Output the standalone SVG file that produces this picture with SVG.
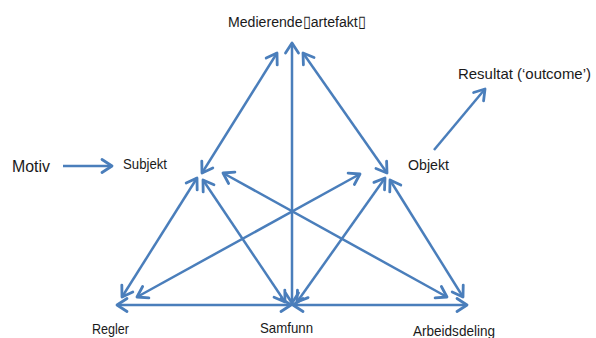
<svg xmlns="http://www.w3.org/2000/svg" width="596" height="338" viewBox="0 0 596 338">
<style>
.c{stroke:#4A7EBB;stroke-width:2.5;fill:none;marker-end:url(#ah)}
.d{marker-start:url(#ah)}
text{font-family:"Liberation Sans",Arial,sans-serif;fill:#1a1a1a}
</style>
<defs>
<marker id="ah" markerUnits="userSpaceOnUse" markerWidth="20" markerHeight="20" refX="0" refY="0" viewBox="-12 -10 14 20" orient="auto-start-reverse">
<path d="M-10,-6.5 L0,0 L-10,6.5" fill="none" stroke="#4A7EBB" stroke-width="2.8" stroke-linejoin="round" stroke-linecap="round"/>
</marker>
</defs>
<rect width="596" height="338" fill="#ffffff"/>
<g id="connectors">
<line class="c d" x1="292" y1="303" x2="292" y2="43"/>
<line class="c d" x1="202" y1="173" x2="277" y2="53"/>
<line class="c d" x1="387" y1="173" x2="303" y2="53"/>
<line class="c d" x1="122" y1="297" x2="197" y2="178"/>
<line class="c d" x1="203" y1="180" x2="285" y2="302"/>
<line class="c d" x1="385" y1="178" x2="297" y2="302"/>
<line class="c d" x1="390" y1="180" x2="463" y2="297"/>
<line class="c d" x1="137" y1="297" x2="360" y2="174"/>
<line class="c d" x1="447" y1="297" x2="223" y2="173"/>
<line class="c d" x1="117" y1="305" x2="291" y2="305"/>
<line class="c d" x1="293" y1="305" x2="467" y2="305"/>
<line class="c" x1="63" y1="166" x2="112" y2="166"/>
<line class="c" x1="434" y1="150" x2="485" y2="89"/>
</g>
<g id="medierende"><text x="228" y="27" font-size="15.5" textLength="138" lengthAdjust="spacingAndGlyphs">Medierende▯artefakt▯</text></g>
<g id="resultat"><text x="458" y="79" font-size="15" textLength="133" lengthAdjust="spacingAndGlyphs">Resultat (‘outcome’)</text></g>
<g id="motiv"><text x="12" y="172" font-size="16" textLength="38" lengthAdjust="spacingAndGlyphs">Motiv</text></g>
<g id="subjekt"><text x="123" y="169" font-size="14.5" textLength="44" lengthAdjust="spacingAndGlyphs">Subjekt</text></g>
<g id="objekt"><text x="408" y="170" font-size="14.5" textLength="41" lengthAdjust="spacingAndGlyphs">Objekt</text></g>
<g id="regler"><text x="92" y="334" font-size="14.5" textLength="37" lengthAdjust="spacingAndGlyphs">Regler</text></g>
<g id="samfunn"><text x="260" y="333" font-size="14.5" textLength="53" lengthAdjust="spacingAndGlyphs">Samfunn</text></g>
<g id="arbeidsdeling"><text x="413" y="336" font-size="14.5" textLength="82" lengthAdjust="spacingAndGlyphs">Arbeidsdeling</text></g>
</svg>
